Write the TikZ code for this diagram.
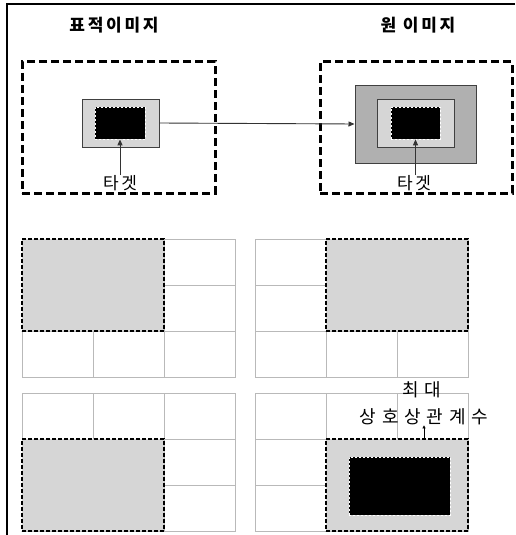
\documentclass[tikz,border=0pt]{standalone}
\usepackage{fontspec}
\newfontfamily\kr[LetterSpace=16]{Noto Sans CJK KR}
\newfontfamily\krwide[LetterSpace=32]{Noto Sans CJK KR}
\usetikzlibrary{arrows.meta}

\tikzset{
  bigframe/.style={draw, line width=3pt, dash pattern=on 8pt off 4pt},
  box/.style={draw=black!75, line width=1pt, inner sep=0pt},
  blob/.style={fill=black, draw=white, dash pattern=on 2pt off 2pt, line width=0.7pt, inner sep=0pt},
  cell/.style={draw=gray!55, line width=0.8pt},
  pick/.style={fill=gray!32, draw=black, line width=1.6pt, dash pattern=on 4pt off 2pt, inner sep=0pt,
               minimum width=142pt, minimum height=92pt},
  lbl/.style={font=\kr\fontsize{17}{19}\selectfont, inner sep=0pt},
  widelbl/.style={font=\krwide\fontsize{18}{20}\selectfont, inner sep=0pt},
  pointer/.style={-{Triangle[length=6pt,width=5pt]}, draw=black!80, line width=0.9pt},
}

\begin{document}
\begin{tikzpicture}[x=1pt, y=-1pt]
        \useasboundingbox (0,0) rectangle (515,535);

        % frame
        \draw[line width=1.3pt] (515,4) -- (7,4) -- (7,535);

        % titles
        \node[lbl, font=\kr\bfseries\fontsize{17}{19}\selectfont] at (114,25)  (srctitle) {표적이미지};
        \node[lbl, font=\kr\bfseries\fontsize{17}{19}\selectfont] at (418,25)  (tgttitle) {원 이미지};

        % target image
        \node[bigframe, minimum width=193pt, minimum height=131pt, inner sep=0pt] at (118.5,127.5) (srcframe) {};
        \node[box, fill=gray!32, minimum width=77pt, minimum height=48pt] at (120.5,123) (srcbox) {};
        \node[blob, minimum width=50pt, minimum height=32pt] at (120,123) (srcblob) {};
        \node[lbl] at (120,183) (srclabel) {타겟};

        % source image
        \node[bigframe, minimum width=192pt, minimum height=131pt, inner sep=0pt] at (416,127.5) (tgtframe) {};
        \node[box, fill=gray!62, minimum width=121pt, minimum height=78pt] at (415.5,124) (tgtouter) {};
        \node[box, fill=gray!32, minimum width=77pt, minimum height=48pt] at (415.5,123) (tgtbox) {};
        \node[blob, minimum width=49pt, minimum height=32pt] at (415.5,123) (tgtblob) {};
        \node[lbl] at (414,183) (tgtlabel) {타겟};

        \draw[pointer] (srclabel.north) -- (srcblob.south);
        \draw[pointer] (tgtlabel.north -| tgtblob.south) -- (tgtblob.south);
        \draw[pointer] (srcbox.east) -- (tgtouter.west);

        % search grids
        \foreach \ox/\oy in {22/239, 255/239, 22/393, 255/393} {
          \draw[cell] (\ox,\oy) rectangle +(213,138);
          \foreach \i in {1,2} {
            \draw[cell] (\ox+71*\i,\oy) -- +(0,138);
            \draw[cell] (\ox,\oy+46*\i) -- +(213,0);
          }
        }

        \node[pick] at (93,285)  (pickA) {};
        \node[pick] at (397,285) (pickB) {};
        \node[pick] at (93,485)  (pickC) {};
        \node[pick] at (397,485) (pickD) {};
        \node[blob, minimum width=101pt, minimum height=58pt] at (399.5,486) (bestblob) {};

        \node[widelbl] at (422,390) (maxlabel) {최대};
        \node[widelbl] at (424,417) (coeflabel) {상호상관계수};
        \draw[-{Triangle[length=3pt,width=3pt]}, line width=0.6pt] (coeflabel.south |- pickD.north) -- (coeflabel.south);
\end{tikzpicture}
\end{document}
